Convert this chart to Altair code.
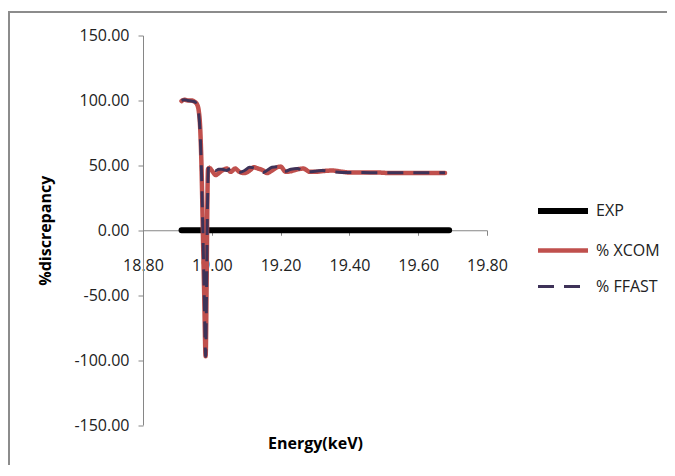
import altair as alt
import pandas as pd

# ---- data ----
exp_energy = [18.912, 19.690]
exp_vals = [0.0, 0.0]

xcom_energy = [18.912, 18.920, 18.930, 18.940, 18.950, 18.957, 18.962, 18.966, 18.970,
               18.974, 18.978, 18.982, 18.985, 18.987, 18.989, 18.993, 19.000, 19.012,
               19.020, 19.030, 19.043, 19.055, 19.068, 19.080, 19.095, 19.110, 19.122,
               19.135, 19.150, 19.160, 19.175, 19.190, 19.200, 19.215, 19.230, 19.250,
               19.266, 19.285, 19.300, 19.320, 19.350, 19.380, 19.400, 19.440, 19.480,
               19.520, 19.560, 19.600, 19.640, 19.678]
xcom_vals = [99.5, 100.5, 100.0, 100.0, 99.0, 97.0, 92.0, 80.0, 50.0,
             0.0, -50.0, -97.0, -40.0, 20.0, 47.0, 48.0, 46.0, 42.5,
             44.0, 46.0, 47.5, 45.0, 47.5, 45.0, 44.0, 46.0, 48.5,
             47.5, 46.0, 44.0, 46.0, 48.5, 49.0, 45.0, 45.5, 47.0,
             47.5, 45.0, 45.0, 45.5, 46.0, 45.0, 44.5, 44.5, 44.5,
             44.0, 44.0, 44.0, 44.0, 44.0]

ffast_energy = [18.912, 18.920, 18.930, 18.940, 18.950, 18.957, 18.962, 18.966, 18.970,
                18.974, 18.978, 18.982, 18.985, 18.987, 18.989, 18.991, 18.996, 19.003,
                19.012, 19.020, 19.030, 19.043, 19.055, 19.068, 19.080, 19.095, 19.110,
                19.122, 19.135, 19.150, 19.160, 19.175, 19.190, 19.200, 19.215, 19.230,
                19.250, 19.266, 19.285, 19.300, 19.320, 19.350, 19.380, 19.400, 19.440,
                19.480, 19.520, 19.560, 19.600, 19.640, 19.678]
ffast_vals = [100.0, 100.5, 100.0, 99.5, 99.0, 96.0, 90.0, 75.0, 45.0,
              0.0, -50.0, -97.0, -40.0, 10.0, 40.0, 50.0, 49.0, 47.0,
              46.0, 47.0, 47.0, 46.0, 47.5, 45.5, 44.5, 46.0, 48.5,
              48.0, 46.5, 44.5, 46.0, 48.5, 49.0, 45.5, 45.5, 47.0,
              47.5, 45.0, 45.0, 45.5, 46.0, 45.0, 44.5, 44.5, 44.5,
              44.2, 44.2, 44.2, 44.2, 44.2, 44.2]

series_names = ["EXP", "% XCOM", "% FFAST"]
series_colors = ["#000000", "#C0504D", "#3E3258"]
series_widths = [6, 3, 6.5]
series_dashes = [[1, 0], [1, 0], [16, 10]]

x_ticks = [18.8, 19.0, 19.2, 19.4, 19.6, 19.8]
y_ticks = [-150, -100, -50, 0, 50, 100, 150]

rows = []
for name, xs, ys in [("EXP", exp_energy, exp_vals),
                     ("% XCOM", xcom_energy, xcom_vals),
                     ("% FFAST", ffast_energy, ffast_vals)]:
    for i, (e, v) in enumerate(zip(xs, ys)):
        rows.append({"energy": e, "value": v, "series": name, "order": i})
df = pd.DataFrame(rows)

W, H = 344, 389.5
FONT = "Open Sans"
HYPHEN_FIX = "replace(datum.label, '\u2212', '-')"

x_enc = alt.X("energy:Q",
              scale=alt.Scale(domain=[18.8, 19.8], nice=False, zero=False),
              axis=alt.Axis(values=x_ticks, format=".2f", title="Energy(keV)",
                            offset=-H / 2, grid=False, tickSize=5, labelPadding=22,
                            labelFlush=False, labelOverlap=False,
                            labelFont=FONT, labelFontSize=16, labelColor="#222222",
                            domainColor="#868686", tickColor="#868686",
                            titleFont=FONT, titleFontSize=16, titleFontWeight="bold",
                            titleColor="#000000", titleX=W / 2, titleY=213,
                            titleBaseline="middle", titleAlign="center"))
y_enc = alt.Y("value:Q",
              scale=alt.Scale(domain=[-150, 150], nice=False),
              axis=alt.Axis(values=y_ticks, format=".2f", title="%discrepancy",
                            labelExpr=HYPHEN_FIX, labelFlush=False, labelOverlap=False,
                            grid=False, tickSize=5, labelPadding=9,
                            labelFont=FONT, labelFontSize=16, labelColor="#222222",
                            domainColor="#868686", tickColor="#868686",
                            titleFont=FONT, titleFontSize=16, titleFontWeight="bold",
                            titleColor="#000000", titleAngle=270, titleX=-98,
                            titleY=H / 2, titleBaseline="middle", titleAlign="center"))

legend = alt.Legend(title=None, orient="none", legendX=392, legendY=147.5,
                    symbolType="stroke", symbolSize=2500, rowPadding=-10,
                    labelFont=FONT, labelFontSize=16, labelColor="#222222",
                    labelOffset=5, padding=0)

color_enc = alt.Color("series:N", scale=alt.Scale(domain=series_names, range=series_colors),
                      legend=legend)
width_enc = alt.StrokeWidth("series:N", scale=alt.Scale(domain=series_names, range=series_widths),
                            legend=legend)
dash_enc = alt.StrokeDash("series:N", scale=alt.Scale(domain=series_names, range=series_dashes),
                          legend=legend)

layers = []
for name in series_names:
    layers.append(
        alt.Chart(df).transform_filter(alt.datum.series == name)
        .mark_line(interpolate="monotone", strokeCap="round" if name != "% FFAST" else "butt")
        .encode(x=x_enc, y=y_enc, color=color_enc, strokeWidth=width_enc,
                strokeDash=dash_enc, order="order:Q")
    )

frame = alt.Chart(alt.Data(values=[{}])).mark_rect(
    fill=None, stroke="#8c8c8c", strokeWidth=2, clip=False
).encode(x=alt.value(-134), x2=alt.value(W + 400), y=alt.value(-23.5), y2=alt.value(H + 300))

chart = alt.layer(frame, *layers).properties(
    width=W, height=H,
    autosize=alt.AutoSizeParams(type="none"),
    padding={"left": 135, "top": 27.5, "right": 180, "bottom": 40},
).configure_view(stroke=None)

chart.save("out.html", embed_options={"renderer": "svg", "actions": False})
